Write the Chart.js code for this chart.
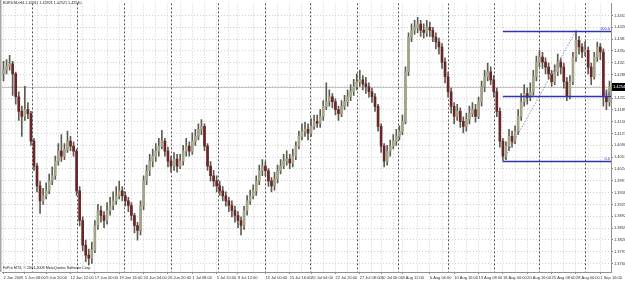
<!DOCTYPE html>
<html>
<head>
<meta charset="utf-8">
<script src="https://cdn.jsdelivr.net/npm/chart.js@4.4.1/dist/chart.umd.min.js"></script>
<style>
  html, body { margin: 0; padding: 0; background: #fff; }
  #wrap { position: relative; width: 625px; height: 283px; }
  canvas { display: block; }
  .txt { position: absolute; font-family: "Liberation Sans", Arial, sans-serif; font-size: 3.7px; color: #222; white-space: nowrap; }
</style>
</head>
<body>
<div id="wrap">
  <canvas id="chart" width="625" height="283"></canvas>
  <div class="txt" style="left:3px; top:1px;">EURUSD,H4 1.42911 1.42921 1.42521 1.42540</div>
  <div class="txt" style="left:3px; top:266px;">FxPro MT4, © 2001-2009 MetaQuotes Software Corp.</div>
</div>
<script>
// prices in pips (x 10000)
const opens = [14290,14301,14312,14318,14290,14226,14185,14171,14190,14179,
  14102,14032,13977,13935,13949,13963,13991,14005,14046,14074,
  14060,14079,14102,14088,14074,13963,13880,13811,13783,13775,
  13797,13866,13908,13894,13880,13908,13922,13935,13949,13963,
  13949,13935,13922,13894,13866,13852,13922,13991,14019,14046,
  14060,14074,14088,14102,14074,14046,14032,14052,14032,14046,
  14074,14088,14074,14102,14115,14135,14143,14088,14032,14005,
  13991,13977,13963,13949,13935,13922,13908,13894,13880,13866,
  13908,13935,13949,13963,13991,14019,14032,14019,13991,13977,
  13996,14019,14032,14046,14052,14041,14060,14088,14115,14129,
  14135,14124,14143,14157,14152,14171,14199,14212,14226,14212,
  14190,14179,14199,14212,14226,14240,14254,14268,14273,14262,
  14254,14240,14226,14199,14143,14088,14046,14074,14088,14102,
  14115,14129,14157,14296,14393,14412,14420,14429,14412,14406,
  14420,14412,14393,14379,14365,14323,14282,14240,14199,14171,
  14185,14157,14143,14163,14179,14190,14171,14212,14254,14282,
  14296,14273,14240,14185,14102,14060,14088,14115,14102,14129,
  14171,14212,14235,14224,14240,14282,14323,14337,14323,14309,
  14290,14268,14296,14323,14309,14268,14226,14268,14337,14384,
  14365,14351,14356,14309,14282,14337,14365,14351,14226,14212];

const highs = [14325,14330,14342,14325,14295,14240,14200,14255,14210,14185,
  14110,14040,13990,13970,13985,14010,14030,14060,14095,14120,
  14095,14130,14115,14100,14080,13975,13890,13825,13800,13820,
  13880,13925,13920,13905,13930,13945,13960,13975,13990,13975,
  13960,13945,13930,13900,13875,13935,14005,14035,14065,14080,
  14095,14110,14132,14110,14085,14060,14070,14065,14065,14090,
  14110,14100,14125,14135,14150,14162,14150,14095,14045,14020,
  14005,13990,13975,13960,13945,13935,13920,13905,13890,13920,
  13950,13965,13980,14005,14035,14050,14045,14025,14000,14015,
  14035,14050,14065,14075,14065,14080,14100,14130,14150,14155,
  14150,14165,14175,14175,14190,14215,14265,14245,14235,14220,
  14200,14215,14230,14245,14260,14275,14290,14300,14285,14280,
  14265,14250,14235,14205,14150,14095,14090,14105,14120,14135,
  14145,14175,14310,14405,14430,14440,14448,14440,14430,14440,
  14435,14420,14405,14390,14375,14335,14295,14250,14210,14205,
  14195,14170,14180,14200,14210,14205,14225,14270,14300,14320,
  14310,14285,14250,14195,14110,14100,14135,14130,14145,14190,
  14235,14260,14250,14265,14300,14340,14355,14350,14335,14320,
  14300,14315,14345,14335,14320,14280,14285,14350,14410,14395,
  14375,14380,14365,14320,14350,14379,14375,14360,14245,14270];

const lows = [14270,14290,14300,14230,14205,14160,14115,14160,14165,14090,
  14020,13960,13900,13925,13940,13955,13980,13995,14035,14045,
  14050,14070,14075,14060,13950,13865,13795,13765,13755,13760,
  13790,13855,13875,13860,13870,13895,13910,13925,13940,13935,
  13920,13905,13880,13845,13825,13840,13910,13980,14005,14030,
  14045,14060,14080,14060,14030,14015,14020,14015,14025,14035,
  14060,14060,14065,14090,14105,14120,14075,14020,13990,13975,
  13960,13950,13935,13920,13905,13890,13875,13860,13840,13855,
  13895,13925,13940,13950,13980,14005,14005,13975,13960,13965,
  13985,14010,14025,14035,14025,14030,14050,14080,14105,14115,
  14105,14115,14135,14140,14140,14160,14190,14200,14195,14175,
  14160,14170,14190,14200,14215,14230,14245,14255,14245,14235,
  14225,14210,14185,14130,14070,14030,14035,14060,14080,14090,
  14105,14120,14150,14285,14380,14400,14405,14395,14390,14395,
  14395,14380,14360,14345,14305,14265,14225,14180,14150,14160,
  14140,14125,14130,14150,14170,14155,14165,14200,14240,14270,
  14260,14225,14170,14085,14046,14050,14075,14085,14095,14120,
  14160,14200,14205,14215,14230,14270,14310,14305,14290,14275,
  14255,14260,14285,14290,14250,14215,14220,14260,14325,14345,
  14335,14340,14290,14260,14275,14325,14330,14200,14190,14200];

const closes = [14301,14312,14318,14290,14226,14185,14171,14190,14179,14102,
  14032,13977,13935,13949,13963,13991,14005,14046,14074,14060,
  14079,14102,14088,14074,13963,13880,13811,13783,13775,13797,
  13866,13908,13894,13880,13908,13922,13935,13949,13963,13949,
  13935,13922,13894,13866,13852,13922,13991,14019,14046,14060,
  14074,14088,14102,14074,14046,14032,14052,14032,14046,14074,
  14088,14074,14102,14115,14135,14143,14088,14032,14005,13991,
  13977,13963,13949,13935,13922,13908,13894,13880,13866,13908,
  13935,13949,13963,13991,14019,14032,14019,13991,13977,13996,
  14019,14032,14046,14052,14041,14060,14088,14115,14129,14135,
  14124,14143,14157,14152,14171,14199,14212,14226,14212,14190,
  14179,14199,14212,14226,14240,14254,14268,14273,14262,14254,
  14240,14226,14199,14143,14088,14046,14074,14088,14102,14115,
  14129,14157,14296,14393,14412,14420,14429,14412,14406,14420,
  14412,14393,14379,14365,14323,14282,14240,14199,14171,14185,
  14157,14143,14163,14179,14190,14171,14212,14254,14282,14296,
  14273,14240,14185,14102,14060,14088,14115,14102,14129,14171,
  14212,14235,14224,14240,14282,14323,14337,14323,14309,14290,
  14268,14296,14323,14309,14268,14226,14268,14337,14384,14365,
  14351,14356,14309,14282,14337,14365,14351,14226,14212,14254];

// time axis labels and the bar they sit on
const dateLabels = ["2 Jun 2009", "5 Jun 08:00", "9 Jun 20:00", "12 Jun 12:00", "17 Jun 00:00",
  "19 Jun 16:00", "24 Jun 04:00", "26 Jun 20:00", "1 Jul 08:00", "5 Jul 20:00",
  "8 Jul 12:00", "13 Jul 00:00", "15 Jul 16:00", "20 Jul 04:00", "22 Jul 20:00",
  "27 Jul 08:00", "30 Jul 00:00", "3 Aug 12:00", "6 Aug 04:00", "10 Aug 16:00",
  "13 Aug 08:00", "18 Aug 00:00", "20 Aug 16:00", "25 Aug 08:00", "28 Aug 00:00", "1 Sep 16:00"];
const dateTickIdx = [0, 7, 14, 22, 30, 38, 46, 54, 62, 70, 77, 86, 94, 101, 109,
  117, 124, 131, 140, 148, 156, 164, 172, 180, 188, 196];

// week starts (bar position)
const weekSeparators = [9.2, 24, 39.5, 55, 70.4, 86, 100.6, 116, 129.7, 146, 161, 176, 191];

// price scale labels
const priceTicks = [14453, 14420, 14387, 14354, 14321, 14288, 14255, 14222, 14189, 14156, 14123,
  14090, 14057, 14024, 13991, 13958, 13925, 13892, 13859, 13826, 13793, 13760];

const lastPrice = 14254;

// fibonacci retracement: from low bar to high bar
const fibBars = [164, 188];
const fibLevels = [14046, 14228, 14410];
const fibNames = ["0.0", "50.0", "100.0"];

const toPrice = (v) => v / 10000;
const font = "Liberation Sans";
const bullColor = "#a3a388";
const bearColor = "#6a2626";
const wickColor = "#5c5c52";
const fibColor = "#3232b4";

const barLabels = closes.map((_, i) => String(i));
const labelAt = {};
dateTickIdx.forEach((idx, k) => { labelAt[idx] = dateLabels[k]; });
const gridIdx = new Set(dateTickIdx);
for (let k = 0; k < dateTickIdx.length - 1; k++) {
  gridIdx.add(Math.round((dateTickIdx[k] + dateTickIdx[k + 1]) / 2));
}
gridIdx.add(Math.round(dateTickIdx[dateTickIdx.length - 1] + 4));

const overlay = {
  id: "overlay",
  beforeDatasetsDraw(chart) {
    const { ctx, chartArea: a, scales: { x, y } } = chart;
    ctx.save();
    // bid line
    const by = Math.round(y.getPixelForValue(toPrice(lastPrice))) + 0.5;
    ctx.strokeStyle = "#c4c4c4";
    ctx.lineWidth = 1;
    ctx.beginPath();
    ctx.moveTo(a.left, by);
    ctx.lineTo(a.right, by);
    ctx.stroke();
    // period separators
    ctx.strokeStyle = "#555";
    ctx.setLineDash([2, 2]);
    weekSeparators.forEach((w) => {
      const px = Math.round(x.getPixelForValue(w)) + 0.5;
      ctx.beginPath();
      ctx.moveTo(px, a.top);
      ctx.lineTo(px, a.bottom);
      ctx.stroke();
    });
    ctx.restore();
  },
  afterDatasetsDraw(chart) {
    const { ctx, chartArea: a, scales: { x, y } } = chart;
    ctx.save();
    const x0 = x.getPixelForValue(fibBars[0]);
    const x1 = x.getPixelForValue(fibBars[1]);
    // trend line between the two anchor points
    ctx.strokeStyle = "#8a8ab0";
    ctx.lineWidth = 1;
    ctx.setLineDash([1.5, 1.5]);
    ctx.beginPath();
    ctx.moveTo(x0, y.getPixelForValue(toPrice(fibLevels[0])));
    ctx.lineTo(x1, y.getPixelForValue(toPrice(fibLevels[2])));
    ctx.stroke();
    ctx.setLineDash([]);
    ctx.strokeStyle = fibColor;
    ctx.lineWidth = 1.3;
    ctx.fillStyle = fibColor;
    ctx.font = "4px " + font;
    ctx.textAlign = "right";
    ctx.textBaseline = "bottom";
    fibLevels.forEach((lv, k) => {
      const py = Math.round(y.getPixelForValue(toPrice(lv))) + 0.5;
      ctx.beginPath();
      ctx.moveTo(x0, py);
      ctx.lineTo(a.right, py);
      ctx.stroke();
      ctx.fillText(fibNames[k], a.right - 1, py - 0.5);
    });
    ctx.restore();
  },
  afterDraw(chart) {
    const { ctx, chartArea: a, scales: { y } } = chart;
    ctx.save();
    ctx.fillStyle = "#a8a8a8";
    ctx.fillRect(0, 0, 1.5, a.bottom);
    // last price box
    const by = Math.round(y.getPixelForValue(toPrice(lastPrice)));
    ctx.fillStyle = "#000";
    ctx.fillRect(a.right + 1, by - 4, 625 - a.right, 8);
    ctx.fillStyle = "#fff";
    ctx.font = "4px " + font;
    ctx.textBaseline = "middle";
    ctx.fillText(toPrice(lastPrice).toFixed(5), a.right + 2, by);
    ctx.restore();
  }
};

new Chart(document.getElementById("chart"), {
  type: "bar",
  data: {
    labels: barLabels,
    datasets: [
      {
        label: "body",
        data: closes.map((c, i) => [toPrice(opens[i]), toPrice(c)]),
        backgroundColor: closes.map((c, i) => (c >= opens[i] ? bullColor : bearColor)),
        barThickness: 2,
        grouped: false,
        order: 0
      },
      {
        label: "wick",
        data: highs.map((h, i) => [toPrice(lows[i]), toPrice(h)]),
        backgroundColor: wickColor,
        barThickness: 1,
        grouped: false,
        order: 1
      }
    ]
  },
  options: {
    responsive: false,
    animation: false,
    events: [],
    layout: { padding: { left: 2, top: 1, right: 0, bottom: 0 } },
    plugins: { legend: { display: false }, tooltip: { enabled: false } },
    scales: {
      x: {
        type: "category",
        offset: true,
        afterFit: (s) => { s.height = 11; },
        grid: {
          offset: false,
          color: (c) => (gridIdx.has(c.index) ? "#d0d0d0" : "rgba(0,0,0,0)"),
          tickColor: (c) => (labelAt[c.index] !== undefined ? "#888" : "rgba(0,0,0,0)"),
          tickLength: 2,
          lineWidth: 1
        },
        border: { display: true, color: "#909090", width: 1, dash: [1, 2] },
        ticks: {
          autoSkip: false,
          maxRotation: 0,
          minRotation: 0,
          align: "start",
          padding: 1,
          color: "#333",
          font: { family: font, size: 4 },
          callback: (v, i) => (labelAt[i] !== undefined ? labelAt[i] : "")
        }
      },
      y: {
        type: "linear",
        position: "right",
        min: 1.3736,
        max: 1.4487,
        afterFit: (s) => { s.width = 14; },
        afterBuildTicks: (s) => { s.ticks = priceTicks.map((v) => ({ value: toPrice(v) })); },
        grid: {
          color: "#d0d0d0",
          tickColor: "#888",
          tickLength: 2,
          lineWidth: 1
        },
        border: { display: true, color: "#909090", width: 1, dash: [1, 2] },
        ticks: {
          autoSkip: false,
          padding: 1,
          color: "#333",
          font: { family: font, size: 4 },
          callback: (v) => Number(v).toFixed(5)
        }
      }
    }
  },
  plugins: [overlay]
});
</script>
</body>
</html>
